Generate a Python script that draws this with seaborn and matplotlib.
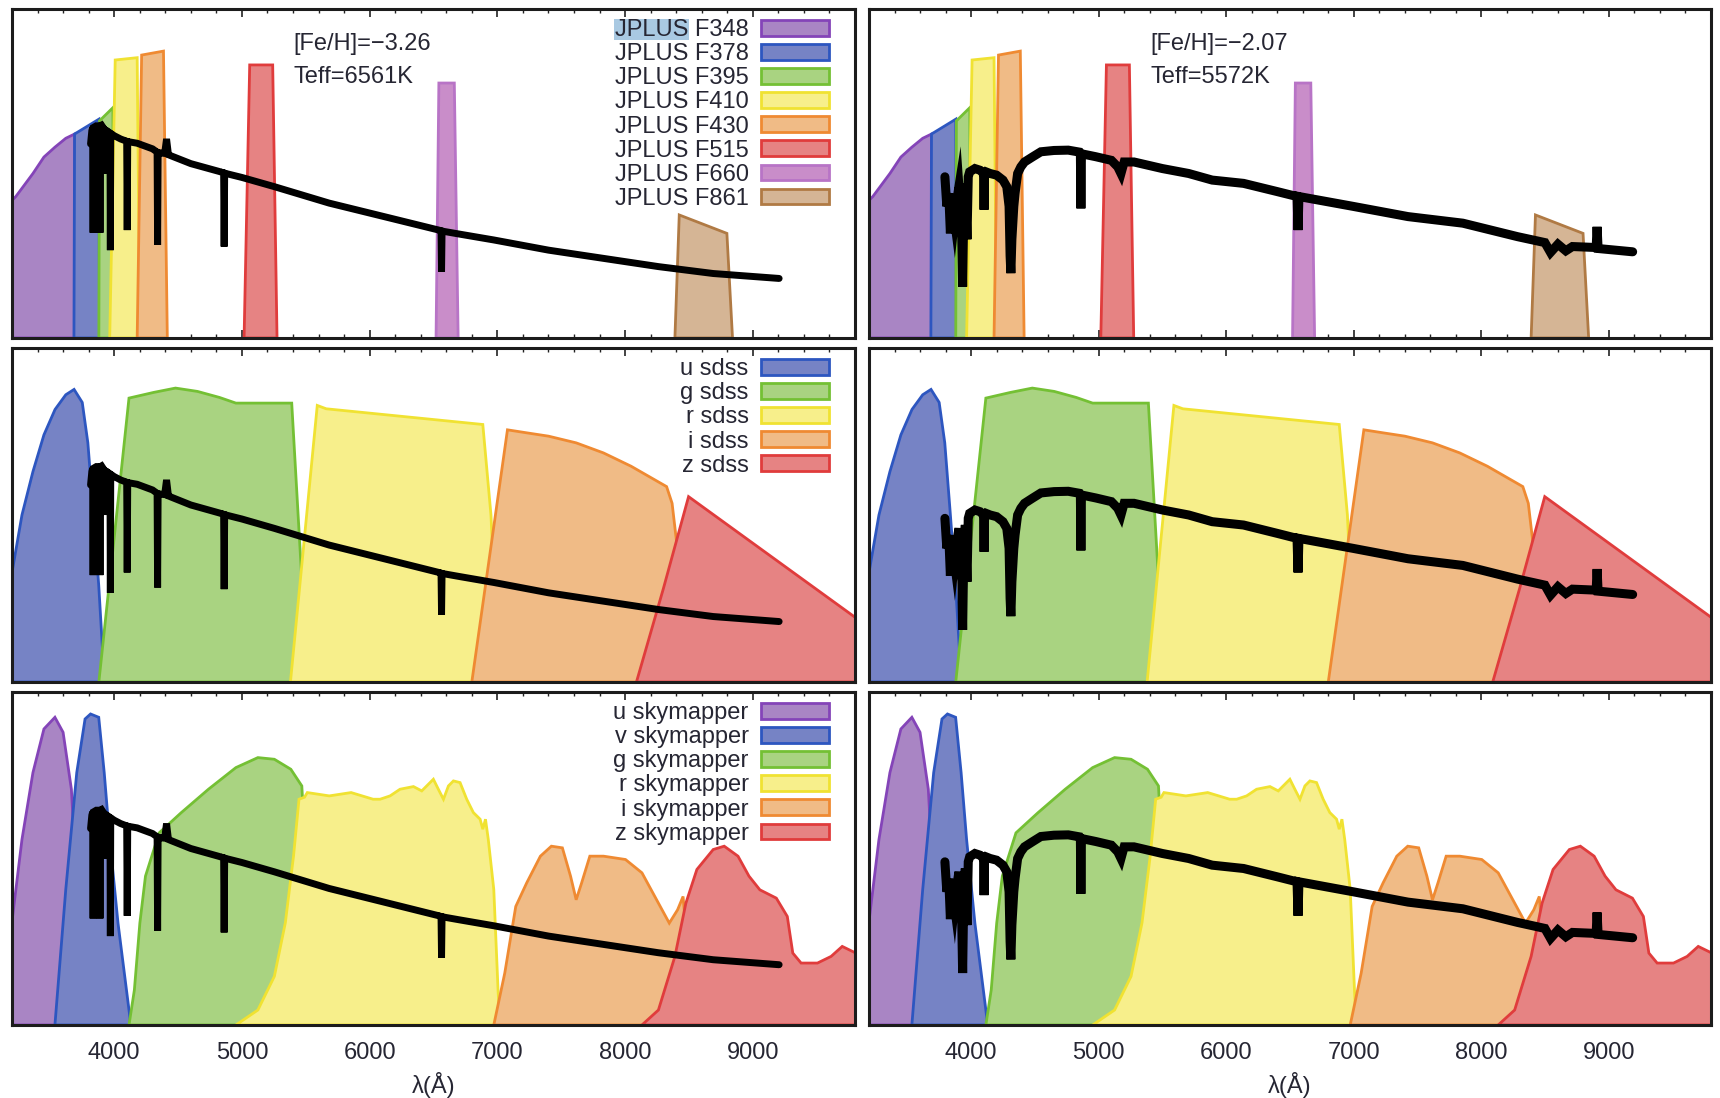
import numpy as np
import pandas as pd
import seaborn as sns
import matplotlib.pyplot as plt
from matplotlib.patches import Patch, Rectangle
from matplotlib.ticker import MultipleLocator
from matplotlib.transforms import IdentityTransform

sns.set_theme(style="white")
plt.rcParams["font.family"] = ["Liberation Sans", "DejaVu Sans"]

XMIN, XMAX = 3200, 9800

# ---------------- filter transmission curves (wavelength in Å, relative throughput) ----------------
jplus_names = ["JPLUS F348", "JPLUS F378", "JPLUS F395", "JPLUS F410",
               "JPLUS F430", "JPLUS F515", "JPLUS F660", "JPLUS F861"]
jplus_lam = [
    [3100, 3100, 3230, 3364, 3450, 3536, 3621, 3690, 3690],
    [3685, 3690, 3880, 3885],
    [3880, 3885, 3990, 3995],
    [3965, 4008, 4180, 4201],
    [4180, 4215, 4386, 4416],
    [5017, 5061, 5241, 5275],
    [6520, 6542, 6663, 6693],
    [8390, 8424, 8797, 8841],
]
jplus_thr = [
    [0, 0.38, 0.43, 0.50, 0.55, 0.58, 0.607, 0.62, 0],
    [0, 0.62, 0.665, 0],
    [0, 0.66, 0.70, 0],
    [0, 0.845, 0.852, 0],
    [0, 0.86, 0.872, 0],
    [0, 0.83, 0.83, 0],
    [0, 0.775, 0.775, 0],
    [0, 0.374, 0.318, 0],
]
jplus_colors = ["purple", "blue", "green", "yellow", "orange", "red", "pink", "brown"]

sdss_names = ["u sdss", "g sdss", "r sdss", "i sdss", "z sdss"]
sdss_lam = [
    [3050, 3192, 3278, 3364, 3450, 3537, 3621, 3686, 3750, 3794, 3836, 3879, 3922, 3930],
    [3880, 4116, 4309, 4480, 4652, 4824, 4953, 5390, 5470, 5520],
    [5380, 5590, 5660, 6886, 6950, 7010],
    [6800, 7079, 7230, 7401, 7617, 7830, 8047, 8325, 8368, 8411, 8460, 8480],
    [8089, 8300, 8497, 9807, 10400],
]
sdss_thr = [
    [0, 0.31, 0.50, 0.63, 0.74, 0.816, 0.86, 0.876, 0.837, 0.716, 0.51, 0.29, 0.01, 0],
    [0, 0.85, 0.867, 0.88, 0.87, 0.852, 0.835, 0.835, 0.30, 0],
    [0, 0.828, 0.818, 0.771, 0.50, 0],
    [0, 0.755, 0.746, 0.736, 0.716, 0.686, 0.646, 0.585, 0.535, 0.394, 0.10, 0],
    [0, 0.28, 0.555, 0.192, 0],
]
sdss_colors = ["blue", "green", "yellow", "orange", "red"]

skym_names = ["u skymapper", "v skymapper", "g skymapper",
              "r skymapper", "i skymapper", "z skymapper"]
skym_lam = [
    [3120, 3192, 3278, 3364, 3450, 3536, 3600, 3665, 3707, 3750, 3770],
    [3536, 3621, 3707, 3772, 3815, 3879, 3922, 3965, 4030, 4116, 4130],
    [4116, 4158, 4201, 4245, 4352, 4523, 4738, 4953, 5125, 5254, 5383, 5469, 5530, 5560],
    [4953, 5125, 5254, 5340, 5404, 5447, 5490, 5512, 5684, 5855, 6027, 6082, 6160, 6238,
     6343, 6408, 6460, 6499, 6538, 6578, 6617, 6656, 6708, 6760, 6812, 6865, 6886, 6907,
     6929, 6972, 7006, 7020],
    [6972, 7058, 7144, 7230, 7337, 7423, 7509, 7573, 7617, 7660, 7724, 7831, 8003, 8132,
     8261, 8346, 8411, 8454, 8476, 8519],
    [8132, 8261, 8390, 8476, 8562, 8690, 8776, 8884, 8970, 9055, 9184, 9270, 9313, 9378,
     9506, 9613, 9700, 9807, 9900, 10000],
]
skym_thr = [
    [0, 0.286, 0.557, 0.758, 0.889, 0.924, 0.879, 0.708, 0.407, 0.05, 0],
    [0, 0.407, 0.758, 0.919, 0.934, 0.924, 0.758, 0.557, 0.306, 0.045, 0],
    [0, 0.105, 0.306, 0.447, 0.577, 0.637, 0.708, 0.773, 0.803, 0.798, 0.768, 0.718, 0.30, 0],
    [0, 0.045, 0.146, 0.307, 0.507, 0.678, 0.684, 0.698, 0.688, 0.698, 0.678, 0.678, 0.688,
     0.708, 0.716, 0.703, 0.723, 0.738, 0.708, 0.678, 0.718, 0.733, 0.728, 0.678, 0.638,
     0.618, 0.588, 0.618, 0.557, 0.407, 0.10, 0],
    [0, 0.156, 0.356, 0.427, 0.507, 0.537, 0.532, 0.447, 0.376, 0.427, 0.507, 0.507, 0.497,
     0.457, 0.366, 0.306, 0.346, 0.386, 0.286, 0],
    [0, 0.045, 0.206, 0.366, 0.467, 0.527, 0.537, 0.507, 0.447, 0.406, 0.381, 0.326, 0.216,
     0.186, 0.186, 0.206, 0.236, 0.216, 0.20, 0],
]
skym_colors = ["purple", "blue", "green", "yellow", "orange", "red"]

FILL = {"purple": "#a985c4", "blue": "#7683c5", "green": "#a9d381", "yellow": "#f7ef8b",
        "orange": "#f0bb86", "red": "#e68383", "pink": "#c98dc9", "brown": "#d5b595"}
EDGE = {"purple": "#8444b8", "blue": "#2d56c0", "green": "#74c034", "yellow": "#f0e232",
        "orange": "#ef8a32", "red": "#e03c3c", "pink": "#b874c6", "brown": "#b07a44"}

# ---------------- stellar spectra (wavelength in Å, scaled flux) ----------------
star_labels = [("[Fe/H]=\u22123.26", "Teff=6561K"), ("[Fe/H]=\u22122.07", "Teff=5572K")]

spec1_lam = [3815, 3825, 3832, 3835, 3838, 3860, 3886, 3889, 3892, 3901, 3930, 3934, 3938,
             3955, 3967, 3970, 3973, 4000, 4050, 4098, 4102, 4106, 4180, 4300, 4336, 4340,
             4344, 4370, 4395, 4410, 4425, 4450, 4600, 4824, 4857, 4861, 4865, 5000, 5254,
             5683, 6113, 6542, 6559, 6563, 6567, 6700, 6972, 7401, 7831, 8261, 8690, 9206]
spec1_flux = [0.59, 0.63, 0.64, 0.32, 0.64, 0.645, 0.645, 0.32, 0.645, 0.647, 0.63, 0.50,
              0.63, 0.625, 0.622, 0.267, 0.622, 0.615, 0.605, 0.598, 0.328, 0.597, 0.592,
              0.575, 0.565, 0.283, 0.564, 0.562, 0.561, 0.605, 0.557, 0.553, 0.530, 0.506,
              0.502, 0.278, 0.501, 0.488, 0.460, 0.410, 0.369, 0.328, 0.326, 0.202, 0.325,
              0.316, 0.298, 0.267, 0.242, 0.217, 0.196, 0.181]

spec2_lam = [3795, 3810, 3825, 3838, 3850, 3870, 3881, 3905, 3925, 3934, 3943, 3955, 3968,
             3978, 3989, 4030, 4070, 4098, 4102, 4106, 4117, 4150, 4200, 4250, 4280, 4298,
             4306, 4312, 4320, 4335, 4345, 4365, 4390, 4419, 4480, 4547, 4650, 4762, 4850,
             4857, 4861, 4865, 4978, 5100, 5150, 5175, 5200, 5277, 5500, 5706, 5890, 6136,
             6400, 6555, 6563, 6570, 6996, 7425, 7855, 8284, 8498, 8542, 8600, 8662, 8714,
             8900, 8907, 8915, 9186]
spec2_flux = [0.49, 0.40, 0.44, 0.318, 0.42, 0.36, 0.40, 0.46, 0.35, 0.156, 0.40, 0.47,
              0.30, 0.49, 0.505, 0.515, 0.51, 0.50, 0.39, 0.50, 0.505, 0.50, 0.495, 0.48,
              0.46, 0.40, 0.25, 0.197, 0.30, 0.40, 0.44, 0.50, 0.52, 0.535, 0.55, 0.566,
              0.57, 0.571, 0.565, 0.56, 0.394, 0.56, 0.551, 0.54, 0.52, 0.50, 0.535, 0.535,
              0.515, 0.50, 0.48, 0.47, 0.445, 0.43, 0.328, 0.43, 0.40, 0.369, 0.349, 0.308,
              0.29, 0.26, 0.285, 0.265, 0.278, 0.275, 0.338, 0.272, 0.262]

spectra = [(spec1_lam, spec1_flux, 5.0), (spec2_lam, spec2_flux, 6.5)]
rows = [(jplus_names, jplus_lam, jplus_thr, jplus_colors),
        (sdss_names, sdss_lam, sdss_thr, sdss_colors),
        (skym_names, skym_lam, skym_thr, skym_colors)]

# ---------------- figure layout ----------------
W, H = 1720, 1098
fig = plt.figure(figsize=(W / 100, H / 100), dpi=100)
col_x = [(12, 855), (869, 1711)]
row_y = [(9, 338), (348, 682), (692, 1025)]

TXT = "#262633"
FS = 17
first_legend = None

for r, (names, lams, thrs, cols) in enumerate(rows):
    for c in range(2):
        x0, x1 = col_x[c]
        y0, y1 = row_y[r]
        ax = fig.add_axes([x0 / W, 1 - y1 / H, (x1 - x0) / W, (y1 - y0) / H])
        for lam, thr, cname in zip(lams, thrs, cols):
            ax.fill(lam, thr, facecolor=FILL[cname], edgecolor=EDGE[cname],
                    linewidth=2.0, zorder=1)
        slam, sflux, lw = spectra[c]
        df = pd.DataFrame({"lam": slam, "flux": sflux})
        sns.lineplot(data=df, x="lam", y="flux", ax=ax, color="black", lw=lw,
                     sort=False, estimator=None, zorder=5, solid_joinstyle="miter")
        ax.set_xlim(XMIN, XMAX)
        ax.set_ylim(0, 1)
        ax.set_yticks([])
        ax.set_ylabel("")
        ax.xaxis.set_major_locator(MultipleLocator(1000))
        ax.xaxis.set_minor_locator(MultipleLocator(200))
        ax.tick_params(axis="x", which="both", direction="in", top=True, bottom=True,
                       color="#222222", labelsize=FS, labelcolor=TXT, pad=12)
        ax.tick_params(axis="x", which="major", length=6, width=1.2)
        ax.tick_params(axis="x", which="minor", length=3, width=1.0)
        for sp in ax.spines.values():
            sp.set_color("#1c1c1c")
            sp.set_linewidth(2.2)
            sp.set_zorder(10)
        if r == 2:
            ax.set_xlabel("\u03bb(\u00c5)", fontsize=FS, color=TXT, labelpad=6)
        else:
            ax.set_xlabel("")
            ax.tick_params(axis="x", labelbottom=False)

        if r == 0:
            feh, teff = star_labels[c]
            ax.text(0.334, 0.894, feh, transform=ax.transAxes, ha="left", va="center",
                    fontsize=FS, color=TXT)
            ax.text(0.334, 0.793, teff, transform=ax.transAxes, ha="left", va="center",
                    fontsize=FS, color=TXT)

        if c == 0:
            handles = [Patch(facecolor=FILL[k], edgecolor=EDGE[k], linewidth=2.0)
                       for k in cols]
            leg = ax.legend(handles, names, loc="upper right", markerfirst=False,
                            frameon=False, fontsize=FS, handlelength=2.9,
                            handleheight=0.65, handletextpad=0.5, labelspacing=0.09,
                            borderpad=0.0, borderaxespad=0.0,
                            bbox_to_anchor=(1 - 26 / 843, 1 - 10 / 329))
            for t in leg.get_texts():
                t.set_color(TXT)
            if r == 0:
                first_legend = (ax, leg)

# light highlight behind the survey name of the first JPLUS entry
ax0, leg0 = first_legend
fig.canvas.draw()
rend = fig.canvas.get_renderer()
lab = leg0.get_texts()[0]
bb = lab.get_window_extent(rend)
probe = ax0.text(0, 0, "JPLUS", fontsize=FS, transform=IdentityTransform())
pw = probe.get_window_extent(rend).width
probe.remove()
ax0.add_patch(Rectangle((bb.x0 - 1, bb.y0 + 1), pw + 2, bb.height - 1,
                        transform=IdentityTransform(), facecolor="#a9c9e2",
                        edgecolor="none", zorder=4))

fig.savefig("out.png", dpi=100)
